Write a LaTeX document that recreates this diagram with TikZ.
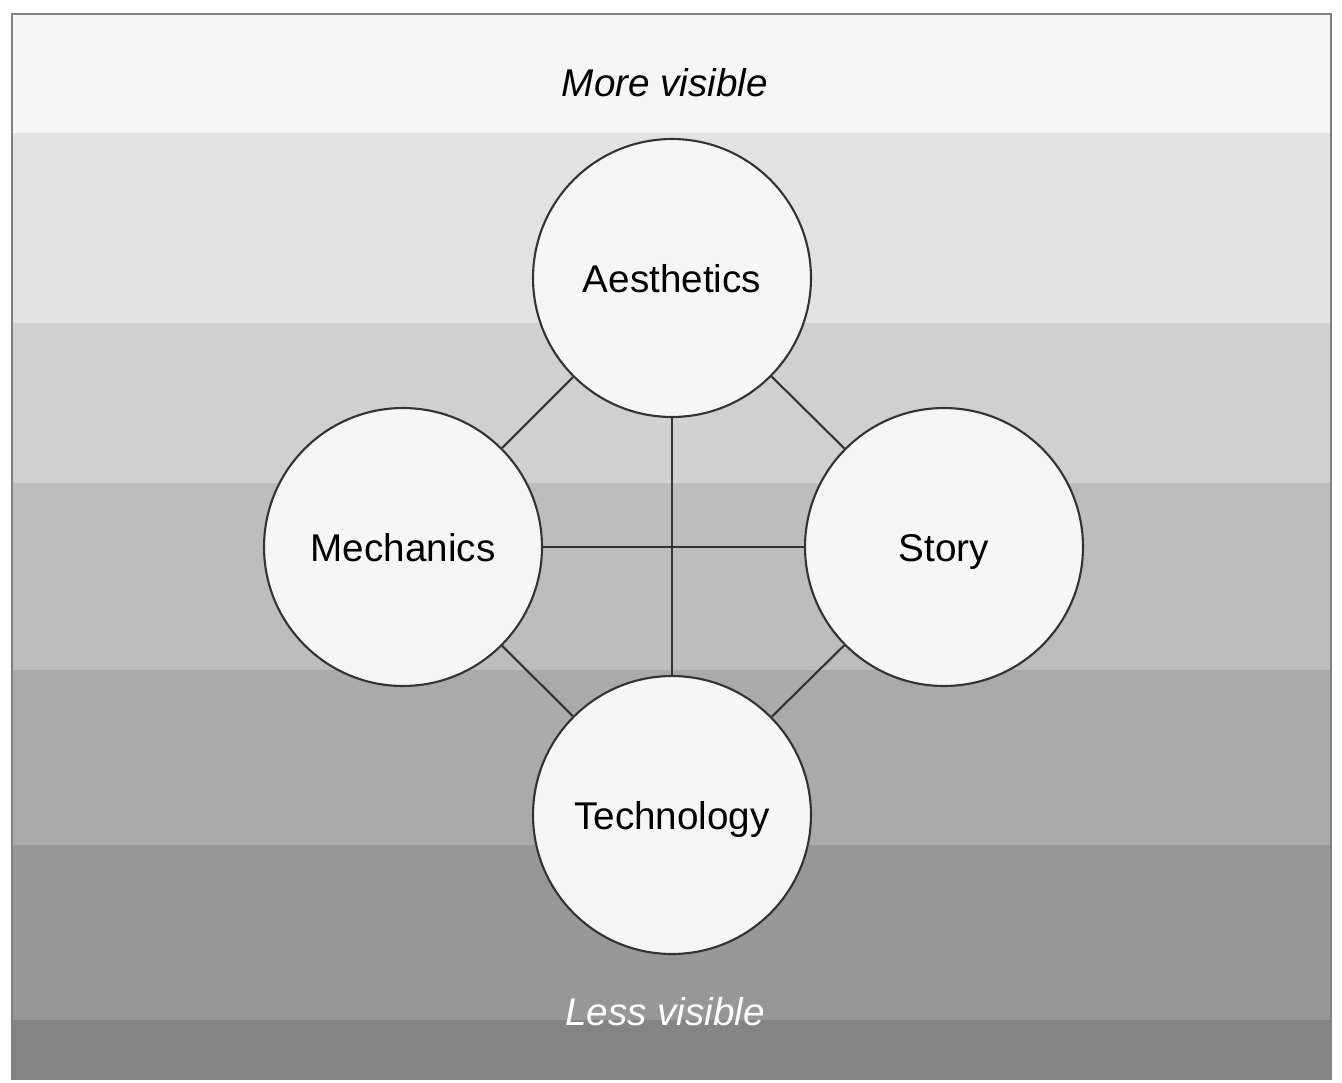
\documentclass[tikz,border=0pt]{standalone}
\usepackage{fontspec}
\setmainfont{Liberation Sans}
\usetikzlibrary{positioning,calc}

\definecolor{bandA}{HTML}{F6F6F6}
\definecolor{bandB}{HTML}{E2E2E2}
\definecolor{bandC}{HTML}{D0D0D0}
\definecolor{bandD}{HTML}{BDBDBD}
\definecolor{bandE}{HTML}{AAAAAA}
\definecolor{bandF}{HTML}{979797}
\definecolor{bandG}{HTML}{848484}
\definecolor{rim}{HTML}{333333}

\tikzset{
  elem/.style={circle,draw=rim,line width=1.2pt,fill=bandA,
    minimum size=5.56cm,inner sep=0pt,text height=20pt,text depth=4pt,
    font=\fontsize{22}{26}\selectfont},
  link/.style={draw=rim,line width=1.2pt},
  tag/.style={font=\fontsize{22}{26}\selectfont\itshape}
}

\begin{document}
\begin{tikzpicture}[x=0.02cm,y=-0.02cm]
  \useasboundingbox (0,0) rectangle (1342,1082);
  \fill[white] (0,0) rectangle (1342,1082);

  % bands, lightest at the top
  \foreach \c / \t / \b in {bandA/14/133,bandB/133/323,bandC/323/483,
      bandD/483/670,bandE/670/845,bandF/845/1020,bandG/1020/1080} {
    \fill[\c] (12,\t) rectangle (1331,\b);
  }
  \draw[gray,line width=0.8pt] (12,1080) -- (12,14) -- (1331,14) -- (1331,1080);

  \node[tag] (more) at (665,83) {More visible};
  \node[tag,text=white] (less) at (665,1012) {Less visible};

  \node[elem] (aes)   at (672,278) {Aesthetics};
  \node[elem] (mech)  at (403,547) {Mechanics};
  \node[elem] (story) at (944,547) {Story};
  \node[elem] (tech)  at (672,815) {Technology};

  \foreach \n / \m in {aes/mech,aes/story,mech/tech,story/tech,mech/story,aes/tech} {
    \draw[link] (\n) -- (\m);
  }
\end{tikzpicture}
\end{document}
